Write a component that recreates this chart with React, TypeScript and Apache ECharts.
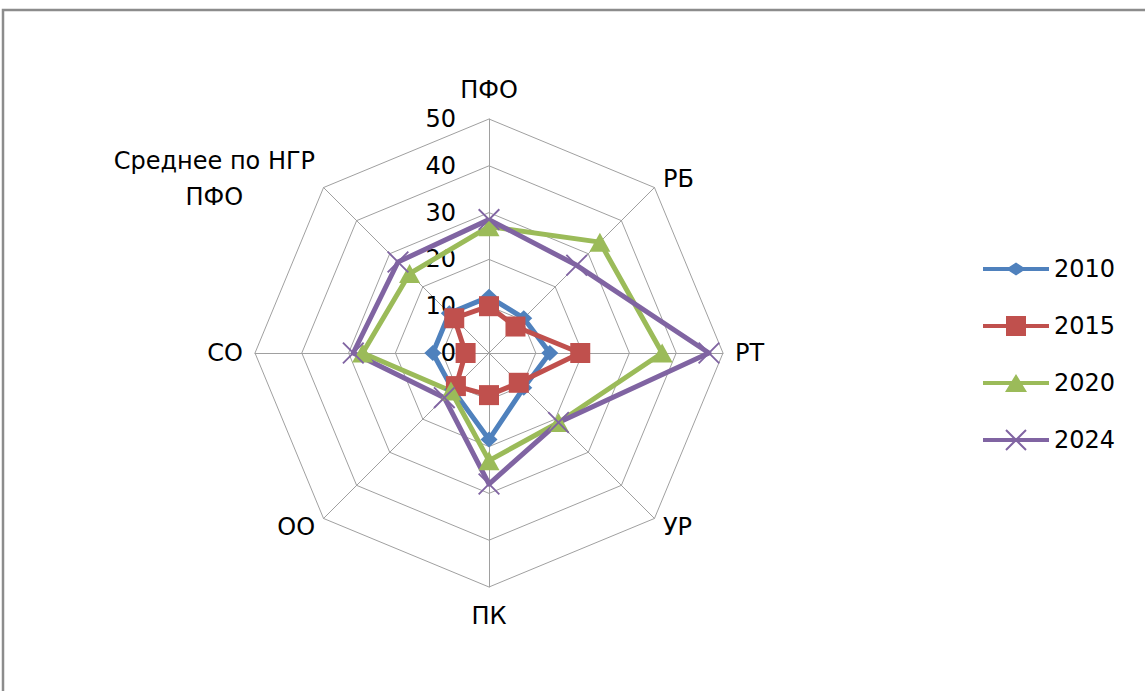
import React, { useEffect, useRef } from 'react';
import * as echarts from 'echarts';

// Categories in clockwise order starting from the top
const categories = ['ПФО', 'РБ', 'РТ', 'УР', 'ПК', 'ОО', 'СО', 'Среднее по НГР\nПФО'];
const years = ['2010', '2015', '2020', '2024'];
const values2010 = [12, 10.5, 13, 10.5, 18.5, 11, 12, 12];
const values2015 = [10, 8, 19.5, 9, 9, 10, 5, 10.5];
const values2020 = [27, 33.5, 37, 21, 23, 11.5, 27, 24];
const values2024 = [28.5, 26.5, 47, 21, 28, 13.5, 29, 27.5];
const axisMin = 0;
const axisMax = 50;
const splitCount = 5;

const FONT = 'DejaVu Sans';
const colors = ['#4F81BD', '#C0504D', '#9BBB59', '#8064A2'];

const X_SYMBOL = 'path://M1.2,0L20,18.8L18.8,20L0,1.2Z M18.8,0L20,1.2L1.2,20L0,18.8Z';
const LINE_PART = 'M0,9L66,9L66,13L0,13Z';
const legendIcons = [
  'path://' + LINE_PART + ' M23,11L33,4.5L43,11L33,17.5Z',
  'path://' + LINE_PART + ' M23,1L43,1L43,21L23,21Z',
  'path://' + LINE_PART + ' M22,20L33,2L44,20Z',
  'path://' + LINE_PART + ' M23.7,0.3L43.7,20.3L42.3,21.7L22.3,1.7Z M43.7,1.7L23.7,21.7L22.3,20.3L42.3,0.3Z',
];
const symbols = ['diamond', 'rect', 'triangle', X_SYMBOL];
const symbolSizes: any[] = [[17, 16], 20, [21, 19], 22];

export default function App() {
  const ref = useRef<HTMLDivElement>(null);
  useEffect(() => {
    if (!ref.current) return;
    const chart = echarts.init(ref.current, undefined, { renderer: 'svg' });
    const seriesValues = [values2010, values2015, values2020, values2024];
    // ECharts radar lays indicators counter-clockwise; reorder to keep clockwise order
    const n = categories.length;
    const order = categories.map((_, i) => (n - i) % n);
    const indicator = order.map((idx, k) => {
      const ind: any = { name: categories[idx], min: axisMin, max: axisMax };
      if (k === 0) ind.axisLabel = { show: true };
      return ind;
    });
    const series = years.map((y, si) => ({
      type: 'radar',
      name: y,
      symbol: symbols[si],
      symbolSize: symbolSizes[si],
      lineStyle: { color: colors[si], width: 5 },
      itemStyle: { color: colors[si] },
      data: [{ name: y, value: order.map((idx) => seriesValues[si][idx]) }],
    }));
    chart.setOption({
      animation: false,
      backgroundColor: '#ffffff',
      graphic: [
        {
          type: 'rect',
          shape: { x: 3, y: 10, width: 1300, height: 900 },
          style: { fill: 'none', stroke: '#8c8c8c', lineWidth: 2.5 },
          silent: true,
        },
      ],
      legend: {
        orient: 'vertical',
        left: 983,
        top: 257,
        padding: 0,
        itemWidth: 66,
        itemHeight: 22,
        itemGap: 33,
        textStyle: { fontFamily: FONT, fontSize: 24, color: '#000', lineHeight: 22 },
        data: years.map((y, i) => ({ name: y, icon: legendIcons[i] })),
      },
      radar: {
        center: [489, 353],
        radius: 234,
        startAngle: 90,
        shape: 'polygon',
        splitNumber: splitCount,
        nameGap: 12,
        indicator,
        axisName: {
          color: '#000',
          fontFamily: FONT,
          fontSize: 24,
          padding: [2, 0, 2, 0],
          formatter: (name: string) => {
            const lines = name.split('\n');
            const key = lines.length > 1 ? 'm' : 'c';
            return lines.map((l) => `{${key}|${l}}`).join('\n');
          },
          rich: {
            c: { align: 'center', fontFamily: FONT, fontSize: 24, color: '#000', lineHeight: 30 },
            m: { align: 'center', fontFamily: FONT, fontSize: 24, color: '#000', lineHeight: 36 },
          },
        },
        axisLabel: {
          show: false,
          color: '#000',
          fontFamily: FONT,
          fontSize: 24,
          margin: 33,
          showMinLabel: true,
          showMaxLabel: true,
        },
        axisTick: { show: false },
        axisLine: { lineStyle: { color: '#a0a0a0', width: 1 } },
        splitLine: { lineStyle: { color: '#a0a0a0', width: 1 } },
        splitArea: { show: false },
      },
      series,
    });
    return () => chart.dispose();
  }, []);
  return (
    <div
      ref={ref}
      style={{ position: 'absolute', left: 0, top: 0, width: 1145, height: 691, background: '#fff' }}
    />
  );
}
